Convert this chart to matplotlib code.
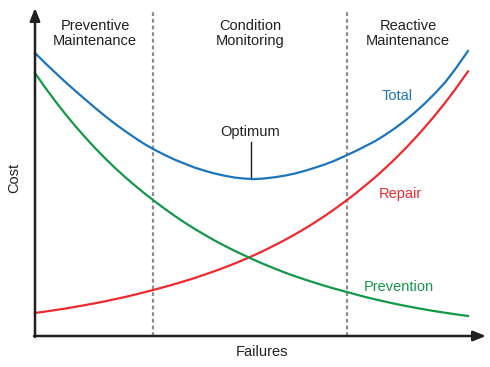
import matplotlib
matplotlib.use("Agg")
import matplotlib.pyplot as plt

# failures (x) and cost values
failures = [0, 10, 20, 30, 40, 50, 60, 70, 80, 90, 100, 110, 120, 130, 140,
            150, 160, 170, 180, 190, 200, 210, 220, 230, 240, 250, 260, 270,
            280, 290, 300, 310, 320, 330, 340, 350, 360, 370, 380, 390, 400,
            410, 420, 433]
prevention = [263, 248.7, 235.2, 222.4, 210.3, 198.9, 188.0, 177.8, 168.1, 159.0,
              150.4, 142.2, 134.5, 127.0, 119.9, 113.2, 106.9, 101.0, 95.3, 90.0,
              85.0, 80.3, 75.7, 71.4, 67.3, 63.4, 59.8, 56.4, 53.2, 50.1, 47.2,
              44.5, 41.8, 39.1, 36.7, 34.4, 32.2, 30.2, 28.3, 26.5, 24.8, 23.3,
              21.8, 20.0]
repair = [23, 24.4, 25.9, 27.4, 29.1, 30.9, 32.7, 34.7, 36.8, 39.0, 41.4, 43.9,
          46.5, 49.2, 52.0, 55.0, 58.1, 61.5, 65.0, 68.7, 72.6, 76.8, 81.2, 85.9,
          90.9, 96.1, 101.6, 107.5, 113.7, 120.2, 127.2, 134.5, 142.1, 150.2,
          158.6, 167.6, 177.1, 187.1, 197.7, 208.9, 220.7, 233.1, 246.3, 264.6]
total = [283, 273.1, 263.6, 254.3, 245.4, 236.8, 228.2, 220.0, 212.2, 205.0,
         198.1, 191.6, 186.0, 180.9, 176.2, 172.2, 168.3, 165.2, 162.4, 160.2,
         158.4, 157.4, 156.9, 157.6, 158.8, 160.4, 162.5, 165.2, 168.3, 171.6,
         175.5, 180.0, 184.6, 189.7, 194.8, 201.0, 207.8, 215.3, 223.6, 232.7,
         242.7, 253.5, 266.5, 285.0]

zone_edges = [118, 312]
zone_names = ["Preventive\nMaintenance", "Condition\nMonitoring", "Reactive\nMaintenance"]
zone_centers = [60, 215, 373]
optimum_x = 216

plt.rcParams["font.family"] = ["Liberation Sans", "DejaVu Sans"]

fig = plt.figure(figsize=(4.9, 3.67), dpi=100)
ax = fig.add_axes([0, 0, 1, 1])
ax.set_xlim(-35, 455)
ax.set_ylim(-31, 336)
ax.axis("off")

blue = "#1b75bb"
red = "#ee2a2f"
green = "#13984a"
ink = "#231f20"

# zone separators
for xe in zone_edges:
    ax.plot([xe, xe], [0, 324], color="#8c8c8c", lw=1.6, dashes=(1.7, 1.3), zorder=1)

ax.plot(failures, total, color=blue, lw=1.6, zorder=3, solid_joinstyle="round")
ax.plot(failures, repair, color=red, lw=1.6, zorder=3, solid_joinstyle="round")
ax.plot(failures, prevention, color=green, lw=1.6, zorder=3, solid_joinstyle="round")

# axes with arrows
arrow = dict(arrowstyle="-|>,head_length=0.75,head_width=0.3", lw=1.8,
             color=ink, shrinkA=0, shrinkB=0)
ax.annotate("", xy=(0, 328), xytext=(0, -1), arrowprops=arrow, zorder=4)
ax.annotate("", xy=(451, 0), xytext=(-1, 0), arrowprops=arrow, zorder=4)

fs = 10.5
for name, xc in zip(zone_names, zone_centers):
    ax.text(xc, 302.5, name, ha="center", va="center", fontsize=fs,
            color=ink, linespacing=1.15)

ax.text(362, 240, "Total", color=blue, fontsize=fs, ha="center", va="center")
ax.text(365, 142, "Repair", color=red, fontsize=fs, ha="center", va="center")
ax.text(364, 49, "Prevention", color=green, fontsize=fs, ha="center", va="center")

ax.text(215, 204, "Optimum", color=ink, fontsize=fs, ha="center", va="center")
ax.plot([optimum_x, optimum_x], [157, 194], color=ink, lw=1.0, zorder=2)

ax.text(-21, 158, "Cost", rotation=90, fontsize=fs, ha="center", va="center", color=ink)
ax.text(227, -16, "Failures", fontsize=fs, ha="center", va="center", color=ink)

fig.savefig("out.png", dpi=100)
